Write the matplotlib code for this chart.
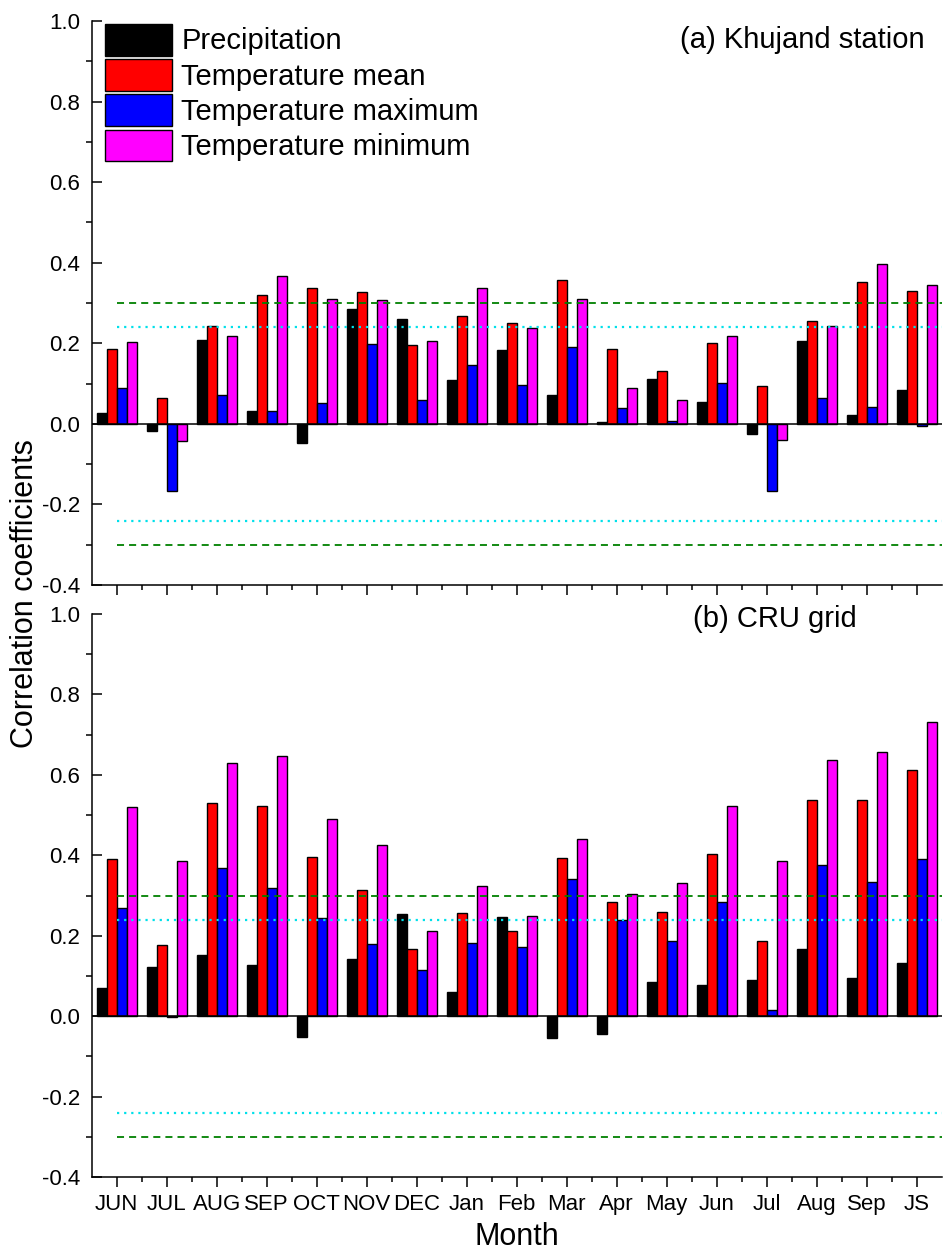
import matplotlib
matplotlib.use("Agg")
import matplotlib.pyplot as plt
import numpy as np
from matplotlib.ticker import MultipleLocator, FixedLocator, FormatStrFormatter

plt.rcParams['font.family'] = ['Liberation Sans', 'DejaVu Sans']

months = ["JUN", "JUL", "AUG", "SEP", "OCT", "NOV", "DEC", "Jan", "Feb", "Mar",
          "Apr", "May", "Jun", "Jul", "Aug", "Sep", "JS"]
series_names = ["Precipitation", "Temperature mean", "Temperature maximum", "Temperature minimum"]
series_colors = ["#000000", "#FF0000", "#0000FF", "#FF00FF"]

# (a) Khujand station
a_prec = [0.026, -0.017, 0.208, 0.031, -0.047, 0.286, 0.261, 0.108, 0.183, 0.071,
          0.004, 0.111, 0.054, -0.024, 0.206, 0.022, 0.085]
a_tmean = [0.187, 0.065, 0.242, 0.320, 0.336, 0.327, 0.195, 0.267, 0.251, 0.357,
           0.187, 0.131, 0.200, 0.094, 0.255, 0.351, 0.329]
a_tmax = [0.090, -0.167, 0.071, 0.031, 0.051, 0.198, 0.058, 0.146, 0.096, 0.191,
          0.040, 0.007, 0.101, -0.167, 0.064, 0.041, -0.005]
a_tmin = [0.202, -0.043, 0.218, 0.368, 0.311, 0.308, 0.205, 0.336, 0.238, 0.309,
          0.089, 0.059, 0.218, -0.040, 0.244, 0.398, 0.345]

# (b) CRU grid
b_prec = [0.069, 0.122, 0.153, 0.126, -0.053, 0.143, 0.254, 0.061, 0.247, -0.054,
          -0.044, 0.085, 0.078, 0.091, 0.167, 0.094, 0.133]
b_tmean = [0.392, 0.177, 0.529, 0.522, 0.396, 0.313, 0.167, 0.257, 0.211, 0.394,
           0.284, 0.260, 0.403, 0.187, 0.537, 0.537, 0.611]
b_tmax = [0.269, -0.003, 0.369, 0.318, 0.243, 0.180, 0.114, 0.181, 0.172, 0.342,
          0.238, 0.188, 0.283, 0.016, 0.375, 0.334, 0.391]
b_tmin = [0.520, 0.386, 0.629, 0.646, 0.489, 0.426, 0.211, 0.324, 0.250, 0.441,
          0.304, 0.332, 0.523, 0.387, 0.638, 0.657, 0.732]

sig_95 = 0.30
sig_90 = 0.24

panel_titles = ["(a) Khujand station", "(b) CRU grid"]

W, H = 943, 1250
fig = plt.figure(figsize=(W / 100, H / 100), dpi=100)
left = 91.7 / W
width = 850 / W
ax1 = fig.add_axes([left, 1 - 585 / H, width, 564 / H])
ax2 = fig.add_axes([left, 1 - 1177 / H, width, 563 / H])

x = np.arange(len(months))
bw = 0.2
offsets = [-0.3, -0.1, 0.1, 0.3]

for ax, data in [(ax1, [a_prec, a_tmean, a_tmax, a_tmin]),
                 (ax2, [b_prec, b_tmean, b_tmax, b_tmin])]:
    for vals, off, col, name in zip(data, offsets, series_colors, series_names):
        ax.bar(x + off, vals, width=bw, color=col, edgecolor='black',
               linewidth=1.0, label=name, zorder=2)
    ax.axhline(0, color='black', lw=1.1, zorder=3)
    ax.hlines([sig_95, -sig_95], 0, 16.5, colors='#008000', linestyles=(0, (3.9, 2.8)),
              lw=1.3, zorder=4)
    ax.hlines([sig_90, -sig_90], 0, 16.5, colors='#00E0EA', linestyles=(0, (1, 2.2)),
              lw=1.6, zorder=4)
    ax.set_xlim(-0.5, 16.5)
    ax.set_ylim(-0.4, 1.0)
    for s in ['top', 'right']:
        ax.spines[s].set_visible(False)
    for s in ['left', 'bottom']:
        ax.spines[s].set_linewidth(1.1)
    ax.yaxis.set_major_locator(MultipleLocator(0.2))
    ax.yaxis.set_minor_locator(MultipleLocator(0.1))
    ax.yaxis.set_major_formatter(FormatStrFormatter('%.1f'))
    ax.set_xticks(x)
    ax.xaxis.set_minor_locator(FixedLocator(np.arange(0.5, 16, 1.0)))
    ax.tick_params(axis='y', which='major', direction='in', length=7.2, width=1.1,
                   pad=8.6, labelsize=16)
    ax.tick_params(axis='y', which='minor', direction='out', length=4.3, width=1.1)
    ax.tick_params(axis='x', which='major', direction='out', length=7.2, width=1.1,
                   pad=5, labelsize=16)
    ax.tick_params(axis='x', which='minor', direction='out', length=3.6, width=1.1)
    ax.set_facecolor('none')

ax1.set_xticklabels([])
ax2.set_xticklabels(months)

ax1.legend(loc='upper left', bbox_to_anchor=(0.0156, 0.995), frameon=False,
           fontsize=21, handlelength=2.3, handleheight=1.3, labelspacing=0.12,
           handletextpad=0.32, borderpad=0, borderaxespad=0)

ax1.text(0.980, 0.966, panel_titles[0], transform=ax1.transAxes, ha='right',
         va='center', fontsize=21)
ax2.text(0.900, 0.991, panel_titles[1], transform=ax2.transAxes, ha='right',
         va='center', fontsize=21)

fig.text(24.7 / W, 1 - 594 / H, "Correlation coefficients", rotation=90,
         ha='center', va='center', fontsize=22)
fig.text((91.7 + 425) / W, 1 - 1237 / H, "Month", ha='center', va='center', fontsize=22)

fig.savefig("out.png", dpi=100)
